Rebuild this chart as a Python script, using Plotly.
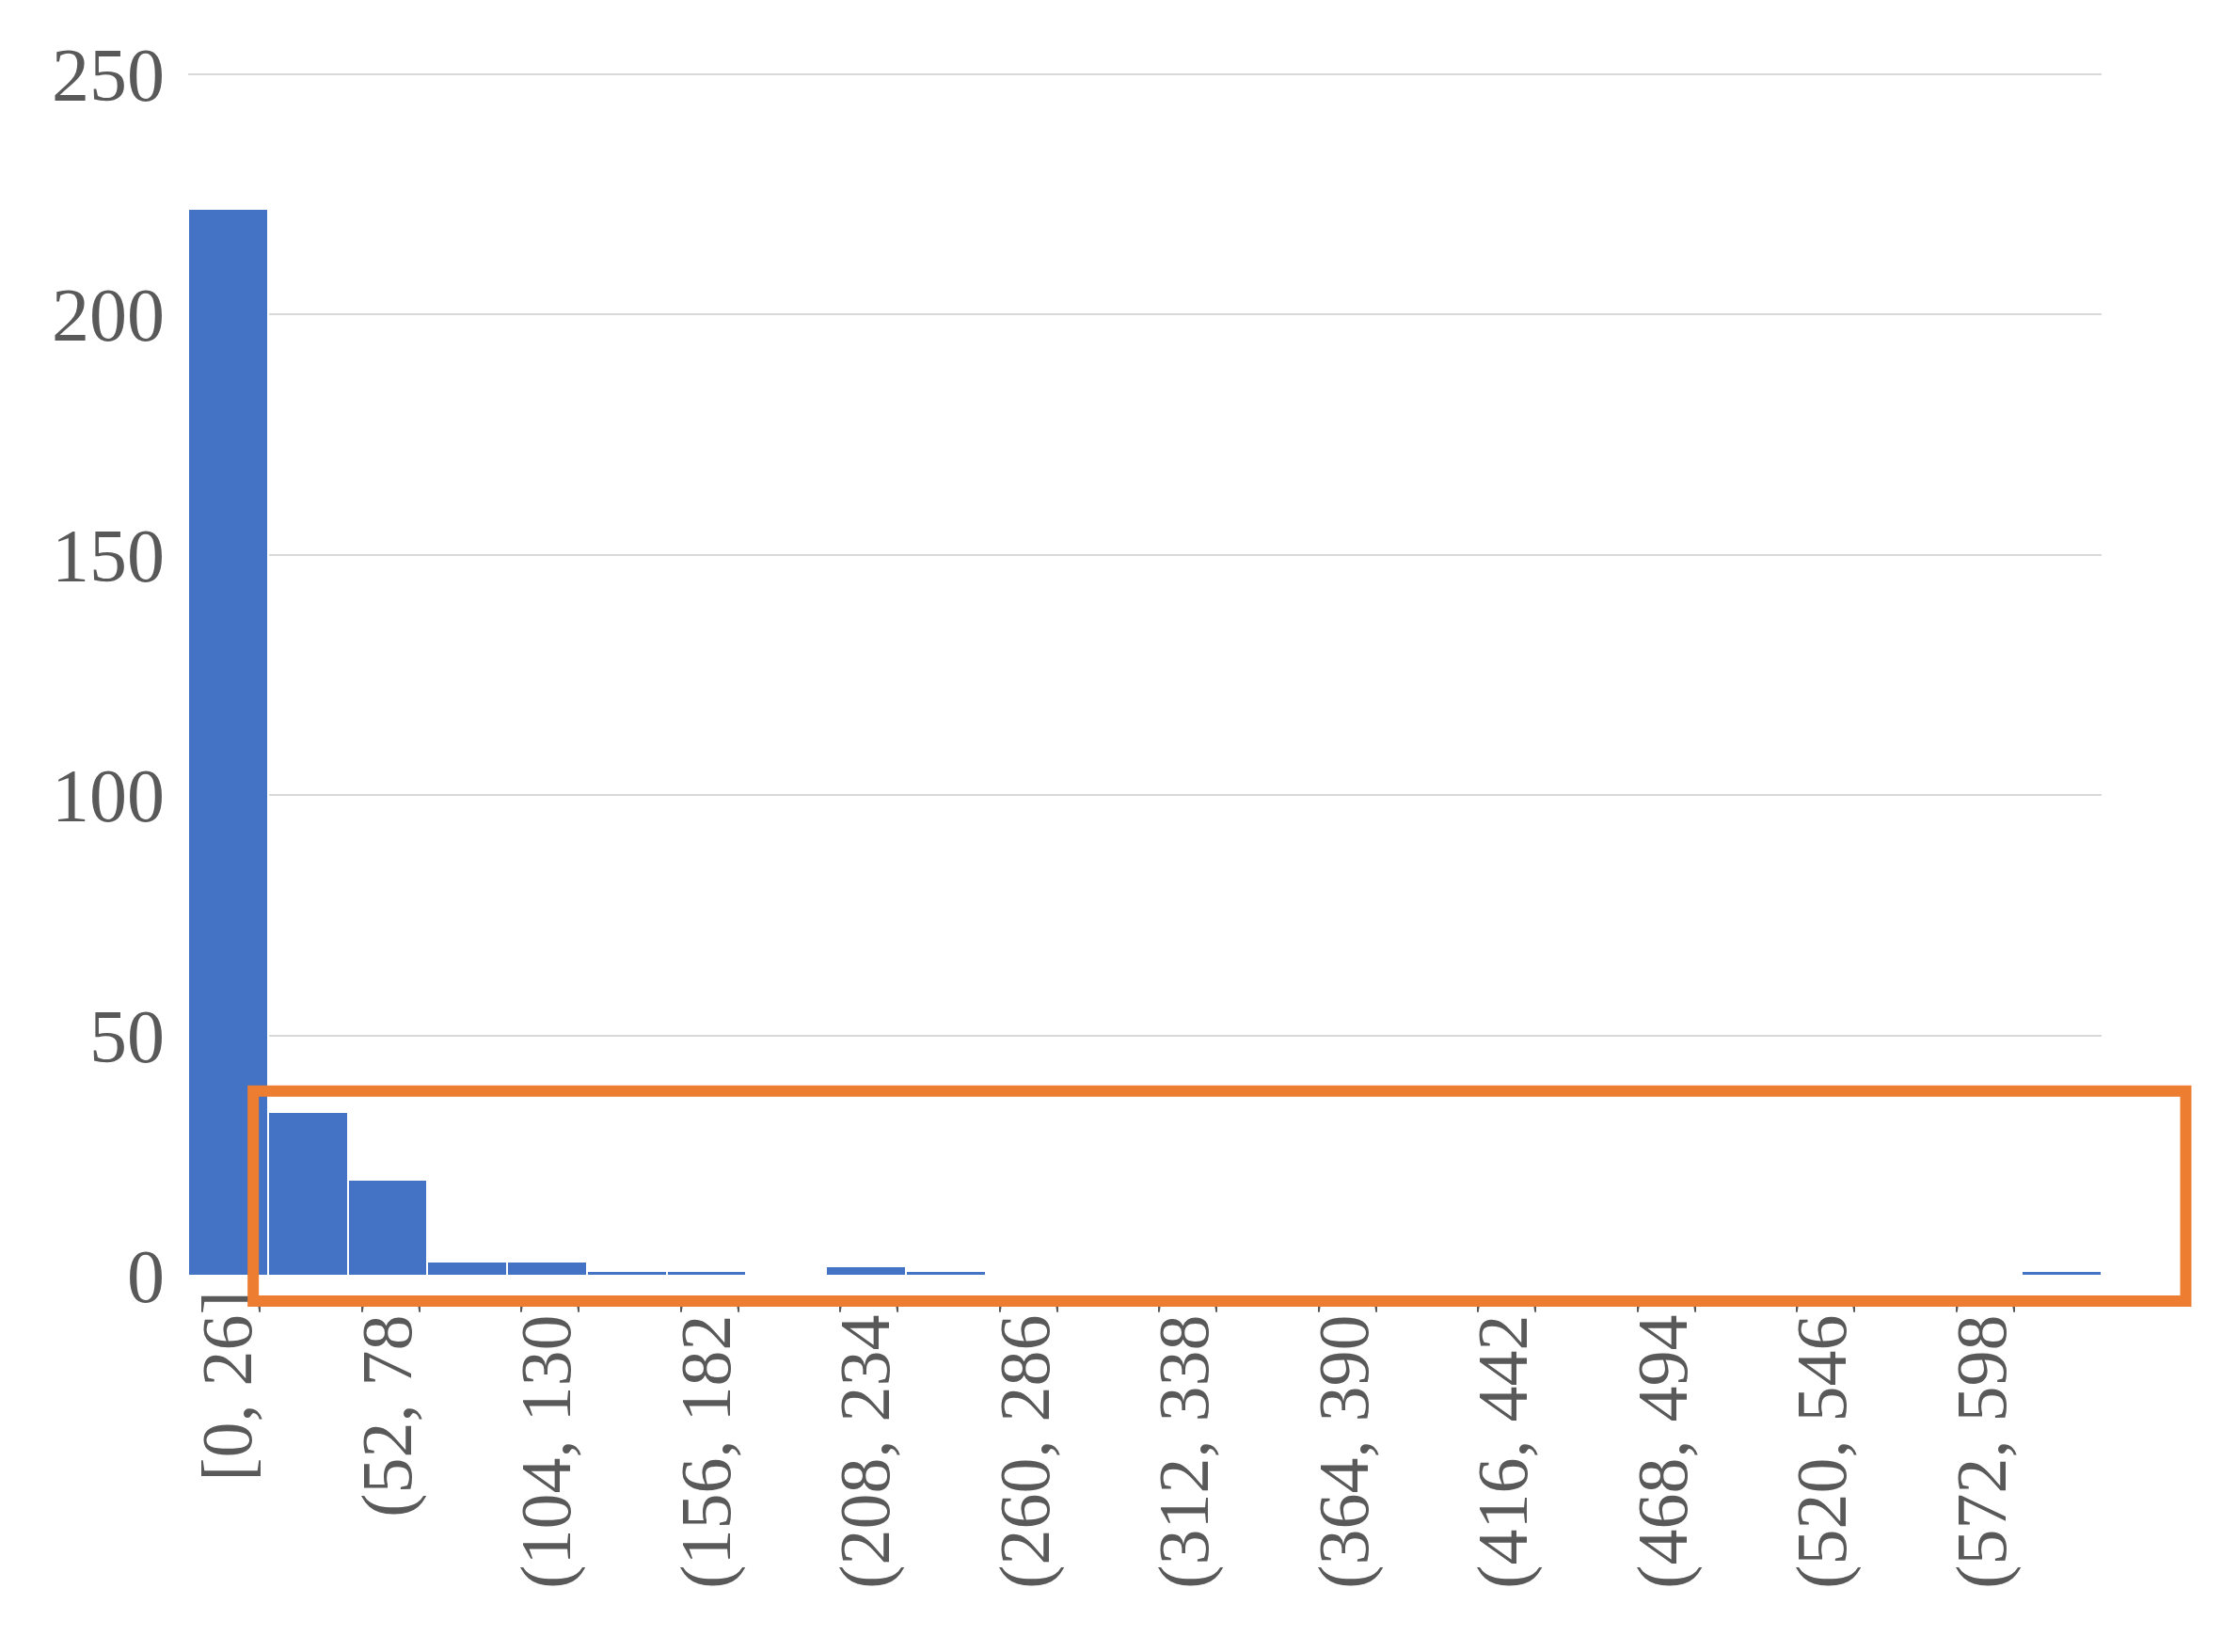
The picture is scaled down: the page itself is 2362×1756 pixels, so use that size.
import plotly.graph_objects as go

bin_edges = list(range(0, 625, 26))
bin_labels = ["[0, 26]"] + [f"({a}, {a + 26}]" for a in bin_edges[1:-1]]
counts = [222, 34, 20, 3, 3, 1, 1, 0, 2, 1, 0, 0, 0, 0, 0, 0, 0, 0, 0, 0, 0, 0, 0, 1]

fig = go.Figure(go.Bar(
    x=bin_labels, y=counts,
    marker=dict(color="#4472C4", line=dict(color="white", width=2)),
))

font = "Liberation Serif, Times New Roman, serif"
fig.update_layout(
    width=2362, height=1756,
    margin=dict(l=192, r=136, t=66, b=408),
    plot_bgcolor="white", paper_bgcolor="white",
    bargap=0, showlegend=False,
    font=dict(family=font, color="#595959", size=76),
    xaxis=dict(tickangle=-90, range=[-0.5, 23.5], showgrid=False,
               showline=False, ticks=""),
    yaxis=dict(range=[0, 251], tickvals=[0, 50, 100, 150, 200, 250],
               gridcolor="#D9D9D9", gridwidth=2,
               zeroline=False, ticks="", ticklabelstandoff=24,
               tickfont=dict(size=80)),
)

# orange highlight box
fig.add_shape(type="rect", xref="paper", yref="paper",
              x0=0.034, x1=1.044, y0=-0.021, y1=0.153,
              line=dict(color="#ED7D31", width=12))

fig.write_html("out.html")
